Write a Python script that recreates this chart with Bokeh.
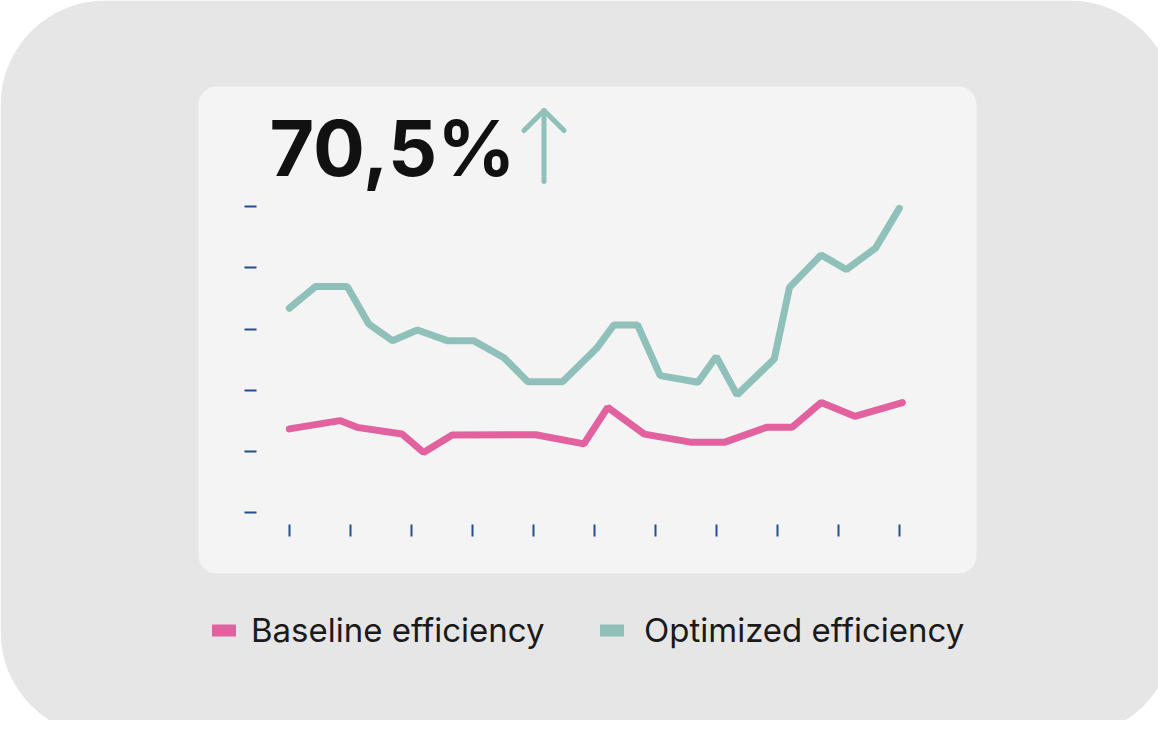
from bokeh.plotting import figure
from bokeh.models import Range1d, LinearAxis, FixedTicker, Label, Legend, LegendItem
from bokeh.embed import file_html
from bokeh.resources import INLINE

# ---------------- data ----------------
optimized_x = [0.0, 0.43, 0.95, 1.30, 1.69, 2.10, 2.59, 3.02, 3.52, 3.91, 4.48, 5.05,
               5.32, 5.71, 6.08, 6.70, 7.00, 7.34, 7.95, 8.20, 8.72, 9.13, 9.61, 10.0]
optimized_y = [66.8, 73.9, 73.9, 61.7, 56.2, 59.7, 56.2, 56.2, 50.6, 42.8, 42.8, 54.0,
               61.3, 61.3, 44.8, 42.6, 51.0, 38.5, 50.2, 73.6, 84.2, 79.4, 86.4, 99.4]
baseline_x = [0.0, 0.83, 1.11, 1.85, 2.20, 2.67, 4.04, 4.83, 5.22, 5.82, 6.60, 7.13,
              7.82, 8.24, 8.72, 9.27, 10.05]
baseline_y = [27.4, 30.1, 27.9, 25.7, 19.7, 25.4, 25.5, 22.5, 34.4, 25.7, 23.0, 23.0,
              27.9, 27.9, 36.0, 31.5, 36.0]
x_ticks = [0, 1, 2, 3, 4, 5, 6, 7, 8, 9, 10]
y_ticks = [0, 20, 40, 60, 80, 100]
headline = "70,5%"
series_labels = ["Baseline efficiency", "Optimized efficiency"]

# ---------------- styles / layout ----------------
PINK = "#e2619f"
TEAL = "#8fc1ba"
TICK = "#234f8f"
OUTER = "#e6e6e6"
PANEL = "#f4f4f4"

W, H = 1158, 720
# pixel placement of the data area
X0_PX, X_UNIT = 288.8, 61.0      # x = 0 position, px per x unit
Y0_PX, Y_UNIT = 512.3, 3.063     # y = 0 position, px per y unit

p = figure(width=W, height=H, output_backend="svg", toolbar_location=None,
           title=None, x_axis_type=None, y_axis_type=None, min_border=0,
           x_range=Range1d(0, W), y_range=Range1d(H, 0))
p.outline_line_color = None
p.background_fill_color = "white"
p.border_fill_color = "white"
p.grid.visible = False

# data ranges mapped through the full canvas
p.extra_x_ranges = {"d": Range1d((0 - X0_PX) / X_UNIT, (W - X0_PX) / X_UNIT)}
p.extra_y_ranges = {"d": Range1d((Y0_PX - H) / Y_UNIT, (Y0_PX - 0) / Y_UNIT)}

# decorations (pixel coordinates)
p.quad(left=0, right=1174, top=0, bottom=736, fill_color=OUTER, line_color=None,
       border_radius=105)
p.quad(left=198, right=976, top=86, bottom=573, fill_color=PANEL, line_color=None,
       border_radius=18)

# axes: ticks only
xaxis = LinearAxis(x_range_name="d", y_range_name="d", ticker=FixedTicker(ticks=x_ticks),
                   fixed_location=(Y0_PX - 524) / Y_UNIT)
yaxis = LinearAxis(x_range_name="d", y_range_name="d", ticker=FixedTicker(ticks=y_ticks),
                   fixed_location=(256 - X0_PX) / X_UNIT)
xaxis.major_label_overrides = {t: "" for t in x_ticks}
yaxis.major_label_overrides = {t: "" for t in y_ticks}
for ax in (xaxis, yaxis):
    ax.axis_line_color = None
    ax.major_tick_line_color = TICK
    ax.major_tick_line_width = 2
    ax.major_tick_in = 0
    ax.major_tick_out = 12
    ax.minor_tick_line_color = None
    ax.major_label_text_font_size = "0px"
    ax.major_label_standoff = 0
p.add_layout(xaxis, "below")
p.add_layout(yaxis, "left")

# series
r_opt = p.line(optimized_x, optimized_y, x_range_name="d", y_range_name="d",
               line_color=TEAL, line_width=7, line_cap="round")
r_base = p.line(baseline_x, baseline_y, x_range_name="d", y_range_name="d",
                line_color=PINK, line_width=7, line_cap="round")

# legend swatches (thicker bars); their own points lie off-canvas
sw_base = p.line([-500, -490], [-500, -500], line_color=PINK, line_width=12, line_cap="round")
sw_opt = p.line([-500, -490], [-500, -500], line_color=TEAL, line_width=12, line_cap="round")

def make_legend(label, rend, x, standoff):
    lg = Legend(items=[LegendItem(label=label, renderers=[rend])],
                location=(x, 65), orientation="horizontal",
                padding=0, margin=0, spacing=0,
                glyph_width=24, glyph_height=50, label_height=50,
                label_standoff=standoff, border_line_color=None,
                background_fill_alpha=0,
                label_text_font="Inter", label_text_font_size="33px",
                label_text_color="#1a1a1a")
    p.add_layout(lg)

make_legend(series_labels[0], sw_base, 212, 15)
make_legend(series_labels[1], sw_opt, 600, 20)

# headline and arrow
p.add_layout(Label(x=269, y=147, text=headline, text_font="Inter",
                   text_font_style="bold", text_font_size="77px",
                   text_color="#111111", text_baseline="alphabetic"))
p.multi_line(xs=[[543.5, 543.5], [523.5, 543.5, 563.5]],
             ys=[[181, 110], [130, 110, 130]],
             line_color=TEAL, line_width=5, line_cap="round", line_join="round")

open("out.html", "w").write(file_html(p, INLINE))
